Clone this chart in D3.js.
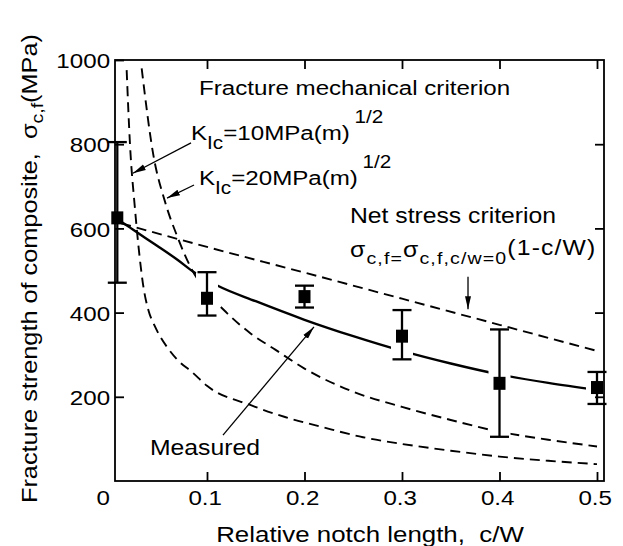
<!DOCTYPE html>
<html>
<head>
<meta charset="utf-8">
<script src="https://cdn.jsdelivr.net/npm/d3@7"></script>
<style>
  body { margin: 0; background: #fff; }
  svg { display: block; font-family: "Liberation Sans", Arial, Helvetica, sans-serif; }
</style>
</head>
<body>
<svg id="chart" width="623" height="546"></svg>
<script>
// measured fracture strength (MPa) vs relative notch length c/W, with scatter
const measuredCW = [0.008, 0.1, 0.2, 0.3, 0.4, 0.5];
const measuredMean = [625, 434, 438, 344, 232, 222];
const measuredHigh = [805, 496, 464, 406, 360, 259];
const measuredLow = [471, 393, 412, 289, 105, 183];

// solid line drawn through the measured values
const fitCW = [0.008, 0.014, 0.03, 0.048, 0.07, 0.086, 0.11, 0.15, 0.2, 0.25, 0.3, 0.35, 0.4, 0.45, 0.5];
const fitVal = [622, 613, 588, 560, 525, 497, 465, 427, 383, 344, 309, 279, 253, 233, 216];

// net stress criterion (dashed)
const netCW = [0.012, 0.1, 0.2, 0.3, 0.4, 0.5];
const netVal = [612, 556, 495, 433, 371, 309];

// fracture mechanical criterion, KIc = 10 MPa m^1/2 (dashed)
const k10CW = [0.0176, 0.021, 0.026, 0.031, 0.035, 0.04, 0.046, 0.052, 0.06, 0.07, 0.085, 0.1, 0.145, 0.18, 0.22, 0.26, 0.3, 0.35, 0.4, 0.45, 0.5];
const k10Val = [976, 800, 650, 530, 458, 405, 370, 343, 315, 287, 258, 226, 180, 152, 127, 104, 88, 72, 58, 48, 40];

// fracture mechanical criterion, KIc = 20 MPa m^1/2 (dashed)
const k20CW = [0.033, 0.045, 0.057, 0.07, 0.085, 0.1, 0.12, 0.145, 0.17, 0.2, 0.25, 0.3, 0.35, 0.4, 0.45, 0.5];
const k20Val = [980, 774, 663, 578, 500, 450, 400, 350, 312, 267, 212, 176, 145, 117, 98, 82];

const xTicks = [0, 0.1, 0.2, 0.3, 0.4, 0.5];
const xTickLabels = ['0', '0.1', '0.2', '0.3', '0.4', '0.5'];
const yTicks = [200, 400, 600, 800, 1000];
const yTickLabels = ['200', '400', '600', '800', '1000'];

const SX = 1.15; // the scanned lettering is wider than Arial
const frame = { left: 115, right: 604, top: 60, bottom: 481 };

const svg = d3.select('#chart');
const x = d3.scaleLinear().domain([0, 0.5]).range([109.5, 597]);
const y = d3.scaleLinear().domain([0, 1000]).range([481, 60]);

const defs = svg.append('defs');
defs.append('marker')
  .attr('id', 'arrow')
  .attr('viewBox', '0 0 13 8')
  .attr('refX', 13).attr('refY', 4)
  .attr('markerWidth', 13).attr('markerHeight', 8)
  .attr('markerUnits', 'userSpaceOnUse')
  .attr('orient', 'auto')
  .append('path').attr('d', 'M0,1 L13,4 L0,7 Z').attr('fill', '#000');

const line = d3.line().x(d => x(d[0])).y(d => y(d[1])).curve(d3.curveMonotoneX);
const zip = (a, b) => a.map((v, i) => [v, b[i]]);

// curves
const dashed = [zip(netCW, netVal), zip(k10CW, k10Val), zip(k20CW, k20Val)];
svg.append('g').selectAll('path').data(dashed).enter().append('path')
  .attr('d', line)
  .attr('fill', 'none').attr('stroke', '#000')
  .attr('stroke-width', 1.9).attr('stroke-dasharray', '10,6');

svg.append('path')
  .attr('d', line(zip(fitCW, fitVal)))
  .attr('fill', 'none').attr('stroke', '#000').attr('stroke-width', 2.4);

// white gaps where the curves pass behind the error bars
svg.append('g').selectAll('line').data(measuredCW.slice(1)).enter().append('line')
  .attr('x1', d => x(d)).attr('x2', d => x(d))
  .attr('y1', (d, i) => y(measuredHigh[i + 1]))
  .attr('y2', (d, i) => y(measuredLow[i + 1]))
  .attr('stroke', '#fff').attr('stroke-width', 22);

// frame and ticks
svg.append('rect')
  .attr('x', frame.left).attr('y', frame.top)
  .attr('width', frame.right - frame.left).attr('height', frame.bottom - frame.top)
  .attr('fill', 'none').attr('stroke', '#000').attr('stroke-width', 1.8);

function styleAxis(g) {
  g.select('.domain').remove();
  g.attr('font-family', null).attr('font-size', 21);
  g.selectAll('line').attr('stroke-width', 1.8);
  g.selectAll('text').attr('fill', '#000');
}

const bottom = svg.append('g').attr('transform', `translate(0,${frame.bottom})`)
  .call(d3.axisBottom(x).tickValues(xTicks).tickSize(-9).tickPadding(9.5)
    .tickFormat(d => xTickLabels[xTicks.indexOf(d)]))
  .call(styleAxis);
bottom.selectAll('.tick').filter(d => d === 0).select('line').remove();
bottom.selectAll('text')
  .attr('transform', `scale(${SX},1)`)
  .attr('dx', d => d === 0 ? -6 : -2);

svg.append('g').attr('transform', `translate(0,${frame.top})`)
  .call(d3.axisTop(x).tickValues(xTicks.slice(1)).tickSize(-9).tickFormat(''))
  .call(styleAxis);

svg.append('g').attr('transform', `translate(${frame.left},0)`)
  .call(d3.axisLeft(y).tickValues(yTicks).tickSize(-9).tickPadding(4.3)
    .tickFormat(d => yTickLabels[yTicks.indexOf(d)]))
  .call(styleAxis)
  .selectAll('text').attr('transform', `scale(${SX},1)`).attr('dy', '0.37em');

svg.append('g').attr('transform', `translate(${frame.right},0)`)
  .call(d3.axisRight(y).tickValues(yTicks.slice(0, 4)).tickSize(-9).tickFormat(''))
  .call(styleAxis);

// error bars and markers
const bars = svg.append('g').attr('stroke', '#000').attr('stroke-width', 2.3);
measuredCW.forEach((c, i) => {
  const cx = x(c);
  bars.append('line').attr('x1', cx).attr('x2', cx)
    .attr('y1', y(measuredHigh[i])).attr('y2', y(measuredLow[i]));
  [measuredHigh[i], measuredLow[i]].forEach(v => {
    bars.append('line').attr('x1', cx - 9.5).attr('x2', cx + 9.5)
      .attr('y1', y(v)).attr('y2', y(v));
  });
});
svg.append('g').selectAll('rect').data(measuredCW).enter().append('rect')
  .attr('x', d => x(d) - 6).attr('y', (d, i) => y(measuredMean[i]) - 6.5)
  .attr('width', 12).attr('height', 13).attr('fill', '#000');

// arrows, [from, to] in data units
const arrows = [
  [[0.0836, 803], [0.024, 731]],
  [[0.0867, 703], [0.059, 672]],
  [[0.3677, 485], [0.3677, 408]],
  [[0.1164, 109], [0.2097, 366]]
];
svg.append('g').selectAll('line').data(arrows).enter().append('line')
  .attr('x1', d => x(d[0][0])).attr('y1', d => y(d[0][1]))
  .attr('x2', d => x(d[1][0])).attr('y2', d => y(d[1][1]))
  .attr('stroke', '#000').attr('stroke-width', 1.3)
  .attr('marker-end', 'url(#arrow)');

// text
function label(px, py, size, rotate) {
  return svg.append('text')
    .attr('transform', `translate(${px},${py})${rotate ? ' rotate(-90)' : ''} scale(${SX},1)`)
    .style('font-size', size + 'px').attr('fill', '#000');
}

label(370, 542, 22.5, false).attr('text-anchor', 'middle')
  .style('white-space', 'pre').text('Relative notch length,  c/W');

const yt = label(37, 503, 22, true).style('white-space', 'pre');
yt.append('tspan').text('Fracture strength of composite,  \u03c3');
yt.append('tspan').attr('dy', 6).style('font-size', '17px').text('c,f');
yt.append('tspan').attr('dy', -6).text('(MPa)');

label(199, 95, 21, false).text('Fracture mechanical criterion');

[['10', 191, 140], ['20', 199, 185]].forEach(([k, px, py]) => {
  const t = label(px, py, 21, false);
  t.append('tspan').text('K');
  t.append('tspan').attr('dy', 9).style('font-size', '18px').text('Ic');
  t.append('tspan').attr('dy', -9).text('=' + k + 'MPa(m)');
  t.append('tspan').attr('dy', -17).attr('dx', 4).style('font-size', '18px').text('1/2');
});

label(350, 223, 21.5, false).text('Net stress criterion');

const f = label(350, 257, 21.5, false).style('letter-spacing', '1px');
f.append('tspan').text('\u03c3');
f.append('tspan').attr('dy', 7).style('font-size', '17px').text('c,f=');
f.append('tspan').attr('dy', -7).text('\u03c3');
f.append('tspan').attr('dy', 7).style('font-size', '17px').text('c,f,c/w=0');
f.append('tspan').attr('dy', -9).text('(1-c/W)');

label(150, 455, 21.5, false).text('Measured');
</script>
</body>
</html>
